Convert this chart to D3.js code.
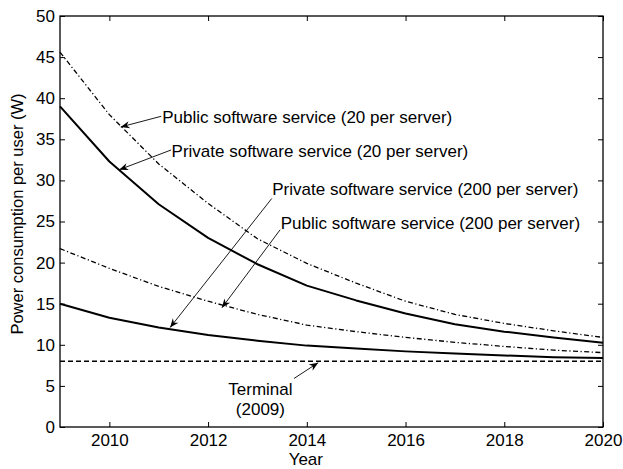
<!DOCTYPE html>
<html>
<head>
<meta charset="utf-8">
<script src="https://cdn.jsdelivr.net/npm/d3@7"></script>
<style>
  html, body { margin: 0; padding: 0; background: #fff; }
  svg { display: block; font-family: "Liberation Sans", Arial, Helvetica, sans-serif; }
</style>
</head>
<body>
<svg id="chart" width="623" height="469"></svg>
<script>
// Years on the horizontal axis
const years = [2009, 2010, 2011, 2012, 2013, 2014, 2015, 2016, 2017, 2018, 2019, 2020];

// Power consumption per user (W) for each service model
const publicSW20   = [45.6, 38.0, 32.0, 27.2, 22.9, 19.9, 17.5, 15.3, 13.7, 12.6, 11.7, 10.9];
const privateSW20  = [39.0, 32.3, 27.1, 23.0, 19.8, 17.2, 15.4, 13.8, 12.5, 11.6, 10.9, 10.25];
const publicSW200  = [21.7, 19.3, 17.1, 15.3, 13.7, 12.4, 11.6, 10.9, 10.3, 9.8, 9.35, 9.05];
const privateSW200 = [15.0, 13.3, 12.1, 11.2, 10.5, 9.9, 9.55, 9.2, 8.95, 8.7, 8.5, 8.4];
const terminal2009 = [8, 8, 8, 8, 8, 8, 8, 8, 8, 8, 8, 8];

// Axis ticks
const xTicks = [2010, 2012, 2014, 2016, 2018, 2020];
const yTicks = [0, 5, 10, 15, 20, 25, 30, 35, 40, 45, 50];

// Annotation labels: text anchor and arrow tail/head in data units
const labelText  = [
  ["Public software service (20 per server)"],
  ["Private software service (20 per server)"],
  ["Private software service (200 per server)"],
  ["Public software service (200 per server)"],
  ["Terminal", "(2009)"]
];
const labelAt    = [[2011.07, 37.0], [2011.26, 32.9], [2013.30, 28.2], [2013.47, 24.1], [2013.06, 3.9]];
const labelAlign = ["start", "start", "start", "start", "middle"];
const arrowTail  = [[2011.05, 37.8], [2011.25, 33.7], [2013.29, 27.8], [2013.46, 24.0], [2013.74, 5.9]];
const arrowHead  = [[2010.23, 36.5], [2010.20, 31.3], [2011.23, 12.1], [2012.28, 14.5], [2014.23, 7.82]];

const svg = d3.select("#chart");
const W = 623, H = 469;
const margin = { left: 60, top: 16, right: 20, bottom: 42 };
const iw = W - margin.left - margin.right;
const ih = H - margin.top - margin.bottom;

const x = d3.scaleLinear().domain([2009, 2020]).range([margin.left, margin.left + iw]);
const y = d3.scaleLinear().domain([0, 50]).range([margin.top + ih, margin.top]);

const fontSize = 17;
const tickLen = 5;

// Arrowhead marker
svg.append("defs").append("marker")
  .attr("id", "head")
  .attr("viewBox", "-10 -5 12 10")
  .attr("refX", 0).attr("refY", 0)
  .attr("markerWidth", 12).attr("markerHeight", 10)
  .attr("markerUnits", "userSpaceOnUse")
  .attr("orient", "auto")
  .append("path")
  .attr("d", "M0,0 L-9,-3.6 L-6.2,0 L-9,3.6 Z")
  .attr("fill", "#000");

// Series lines
const series = [
  { values: publicSW20,   dash: "5,2.5,1.2,2.5", width: 1.3 },
  { values: privateSW20,  dash: null,            width: 2 },
  { values: publicSW200,  dash: "5,2.5,1.2,2.5", width: 1.3 },
  { values: privateSW200, dash: null,            width: 2 },
  { values: terminal2009, dash: "5,3",           width: 1.3 }
];
const line = d3.line().x((d, i) => x(years[i])).y(d => y(d));
svg.append("g").selectAll("path").data(series).join("path")
  .attr("d", d => line(d.values))
  .attr("fill", "none")
  .attr("stroke", "#000")
  .attr("stroke-width", d => d.width)
  .attr("stroke-dasharray", d => d.dash)
  .attr("stroke-linejoin", "round");

// Axes: ticks point inward on all four sides
const xAxisB = d3.axisBottom(x).tickValues(xTicks).tickFormat(d3.format("d")).tickSizeInner(-tickLen).tickSizeOuter(0).tickPadding(7);
const xAxisT = d3.axisTop(x).tickValues(xTicks).tickFormat("").tickSizeInner(-tickLen).tickSizeOuter(0);
const yAxisL = d3.axisLeft(y).tickValues(yTicks).tickFormat(d3.format("d")).tickSizeInner(-tickLen).tickSizeOuter(0).tickPadding(5);
const yAxisR = d3.axisRight(y).tickValues(yTicks).tickFormat("").tickSizeInner(-tickLen).tickSizeOuter(0);

function styleAxis(g) {
  g.select(".domain").remove();
  g.selectAll("line").attr("stroke", "#000").attr("stroke-width", 1);
  g.selectAll("text").attr("fill", "#000").style("font-size", fontSize + "px").style("font-family", "'Liberation Sans', Arial, sans-serif");
}
svg.append("g").attr("transform", `translate(0,${margin.top + ih})`).call(xAxisB).call(styleAxis);
svg.append("g").attr("transform", `translate(0,${margin.top})`).call(xAxisT).call(styleAxis);
svg.append("g").attr("transform", `translate(${margin.left},0)`).call(yAxisL).call(styleAxis);
svg.append("g").attr("transform", `translate(${margin.left + iw},0)`).call(yAxisR).call(styleAxis);

// Plot frame
svg.append("rect")
  .attr("x", margin.left).attr("y", margin.top)
  .attr("width", iw).attr("height", ih)
  .attr("fill", "none").attr("stroke", "#000").attr("stroke-width", 1.3);

// Axis titles
svg.append("text")
  .attr("x", x(2013.98)).attr("y", 465)
  .attr("text-anchor", "middle")
  .style("font-size", fontSize + "px")
  .text("Year");
svg.append("text")
  .attr("transform", `translate(23,214) rotate(-90)`)
  .attr("text-anchor", "middle")
  .style("font-size", "16.5px")
  .text("Power consumption per user (W)");

// Annotation arrows
svg.append("g").selectAll("line").data(arrowTail).join("line")
  .attr("x1", d => x(d[0])).attr("y1", d => y(d[1]))
  .attr("x2", (d, i) => x(arrowHead[i][0])).attr("y2", (d, i) => y(arrowHead[i][1]))
  .attr("stroke", "#000").attr("stroke-width", 0.9)
  .attr("marker-end", "url(#head)");

// Annotation texts
const lbl = svg.append("g").selectAll("text").data(labelText).join("text")
  .attr("x", (d, i) => x(labelAt[i][0]))
  .attr("y", (d, i) => y(labelAt[i][1]))
  .attr("text-anchor", (d, i) => labelAlign[i])
  .style("font-size", fontSize + "px");
lbl.selectAll("tspan").data(d => d).join("tspan")
  .attr("x", function () { return d3.select(this.parentNode).attr("x"); })
  .attr("dy", (d, i) => i === 0 ? 0 : "1.18em")
  .text(d => d);
</script>
</body>
</html>
